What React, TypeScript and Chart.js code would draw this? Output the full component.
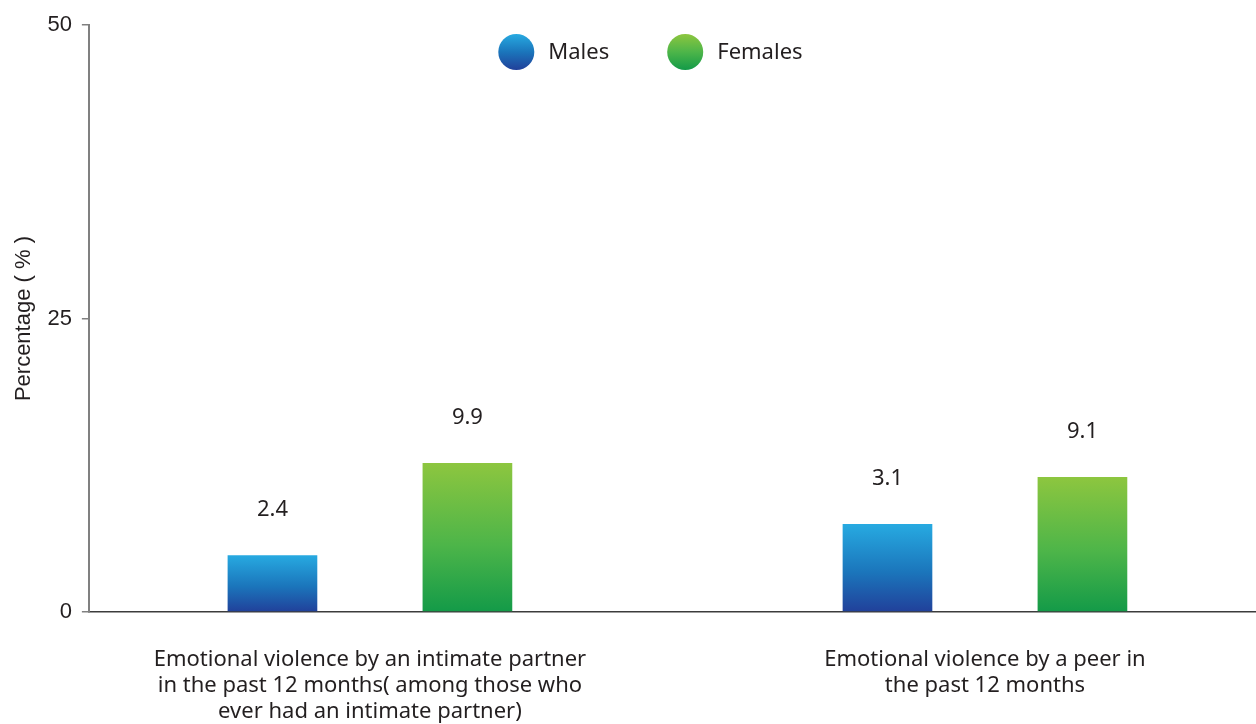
import React, { useEffect, useRef } from 'react';
import { Chart, registerables } from 'chart.js';

Chart.register(...registerables);

// ---- data ----
const categories: string[][] = [
  ['Emotional violence by an intimate partner', 'in the past 12 months( among those who', 'ever had an intimate partner)'],
  ['Emotional violence by a peer in', 'the past 12 months'],
];
const seriesNames = ['Males', 'Females'];
// bar heights as drawn in the picture
const maleValues = [4.85, 7.5];
const femaleValues = [12.7, 11.5];
// value labels printed above the bars
const maleLabels = ['2.4', '3.1'];
const femaleLabels = ['9.9', '9.1'];
const yTicks = [0, 25, 50];
const yTitle = 'Percentage ( % )';

const FONT = "'Noto Sans', sans-serif";
const AXIS_FONT = "'Liberation Sans', Arial, sans-serif";
const TEXT = '#231f20';
const maleColors = ['#27aae1', '#1b75bb', '#21409a'];
const femaleColors = ['#8dc63f', '#4db549', '#139a48'];
const seriesColors = [maleColors, femaleColors];

function barGradient(colors: string[]) {
  return (ctx: any) => {
    const chart = ctx.chart;
    const y = chart.scales?.y;
    if (!chart.chartArea || !y || ctx.type !== 'data' || !ctx.parsed) return colors[1];
    const top = y.getPixelForValue(ctx.parsed.y);
    const base = y.getPixelForValue(0);
    if (!isFinite(top) || !isFinite(base) || top === base) return colors[1];
    const g = chart.ctx.createLinearGradient(0, top, 0, base);
    g.addColorStop(0, colors[0]);
    g.addColorStop(0.55, colors[1]);
    g.addColorStop(1, colors[2]);
    return g;
  };
}

const valueLabelPlugin = {
  id: 'valueLabels',
  afterDatasetsDraw(chart: any) {
    const ctx = chart.ctx;
    ctx.save();
    ctx.font = `22px ${FONT}`;
    ctx.fillStyle = TEXT;
    ctx.textAlign = 'center';
    ctx.textBaseline = 'middle';
    chart.data.datasets.forEach((ds: any, di: number) => {
      const meta = chart.getDatasetMeta(di);
      meta.data.forEach((el: any, i: number) => {
        ctx.fillText(ds.valueLabels[i], el.x, el.y - 45);
      });
    });
    ctx.restore();
  },
};

// legend drawn inside the plot area, centred a little left of the plot centre
const dotLegendPlugin = {
  id: 'dotLegend',
  afterDraw(chart: any) {
    const ctx = chart.ctx;
    const area = chart.chartArea;
    const r = 18;
    const textGap = 14;
    const itemGap = 58;
    ctx.save();
    ctx.font = `22px ${FONT}`;
    const items = chart.data.datasets.map((ds: any) => ({ text: ds.label, w: ctx.measureText(ds.label).width }));
    const total = items.reduce((s: number, it: any) => s + 2 * r + textGap + it.w, 0) + itemGap * (items.length - 1);
    let x = (area.left + area.right) / 2 - 22 - total / 2;
    const cy = area.top + 27;
    items.forEach((it: any, i: number) => {
      const cols = seriesColors[i];
      const g = ctx.createLinearGradient(0, cy - r, 0, cy + r);
      g.addColorStop(0, cols[0]);
      g.addColorStop(0.5, cols[1]);
      g.addColorStop(1, cols[2]);
      ctx.fillStyle = g;
      ctx.beginPath();
      ctx.arc(x + r, cy, r, 0, Math.PI * 2);
      ctx.fill();
      ctx.fillStyle = TEXT;
      ctx.textAlign = 'left';
      ctx.textBaseline = 'middle';
      ctx.fillText(it.text, x + 2 * r + textGap, cy + 1);
      x += 2 * r + textGap + it.w + itemGap;
    });
    ctx.restore();
  },
};

export default function App() {
  const ref = useRef<HTMLCanvasElement>(null);

  useEffect(() => {
    document.body.style.margin = '0';
    const canvas = ref.current!;
    const idx = categories.map((_, i) => i);
    const chart = new Chart(canvas, {
      type: 'bar',
      data: {
        datasets: [
          {
            label: seriesNames[0],
            data: idx.map((i) => ({ x: i, y: maleValues[i] })),
            backgroundColor: barGradient(maleColors),
            valueLabels: maleLabels,
          } as any,
          {
            label: seriesNames[1],
            data: idx.map((i) => ({ x: i, y: femaleValues[i] })),
            backgroundColor: barGradient(femaleColors),
            valueLabels: femaleLabels,
          } as any,
        ],
      },
      options: {
        responsive: false,
        animation: false,
        layout: { padding: { left: 0, top: 25, right: 0, bottom: -36 } },
        datasets: {
          bar: { categoryPercentage: 0.634, barPercentage: 0.46 },
        },
        plugins: {
          legend: { display: false },
          tooltip: { enabled: false },
        },
        scales: {
          x: {
            type: 'linear',
            offset: false,
            min: -0.457,
            max: 1.4407,
            afterBuildTicks: (scale: any) => {
              scale.ticks = idx.map((v) => ({ value: v }));
            },
            grid: { display: false, drawTicks: false },
            border: { display: true, color: '#3c3c3c', width: 1.5 },
            ticks: {
              autoSkip: false,
              maxRotation: 0,
              minRotation: 0,
              padding: 35,
              color: TEXT,
              font: { family: FONT, size: 22, lineHeight: 1.18 },
              callback: (v: any) => categories[Math.round(Number(v))] ?? '',
            },
          },
          y: {
            min: 0,
            max: 50,
            afterBuildTicks: (scale: any) => {
              scale.ticks = yTicks.map((v) => ({ value: v }));
            },
            grid: { drawOnChartArea: false, drawTicks: true, tickLength: 7, color: '#808080', lineWidth: 1.5 },
            border: { display: true, color: '#808080', width: 2 },
            ticks: {
              padding: 10,
              color: TEXT,
              font: { family: AXIS_FONT, size: 22 },
            },
            title: {
              display: true,
              text: yTitle,
              color: TEXT,
              font: { family: AXIS_FONT, size: 22 },
              padding: { top: 11, bottom: 0 },
            },
          },
        },
      },
      plugins: [valueLabelPlugin, dotLegendPlugin],
    } as any);
    return () => chart.destroy();
  }, []);

  return (
    <div style={{ width: 1256, height: 724 }}>
      <canvas ref={ref} width={1256} height={724} />
    </div>
  );
}
